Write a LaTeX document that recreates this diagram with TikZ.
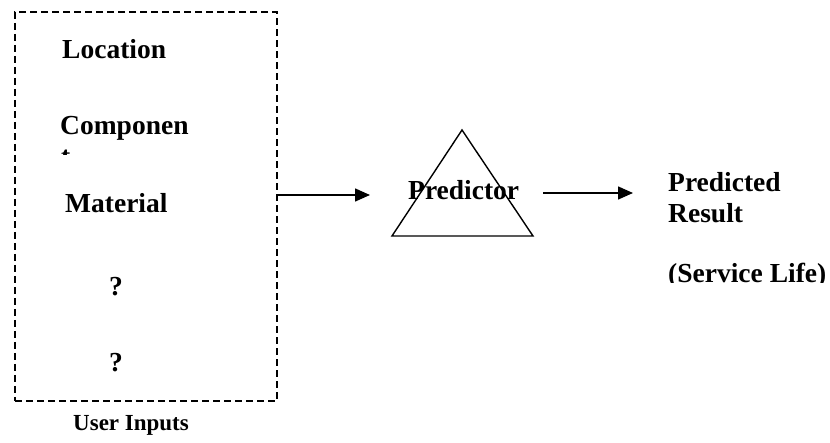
\documentclass[tikz,border=0pt]{standalone}
\usepackage{fontspec}
\setmainfont{Liberation Serif}
\usetikzlibrary{arrows.meta}
\tikzset{
  lbl/.style={anchor=base west, inner sep=0pt, font=\fontsize{27.5}{31}\selectfont\bfseries},
  smalllbl/.style={anchor=base west, inner sep=0pt, font=\fontsize{23}{27}\selectfont\bfseries},
  inputbox/.style={draw, line width=1.6pt, dash pattern=on 7pt off 4pt, minimum width=262pt, minimum height=389pt, inner sep=0pt},
  flow/.style={line width=1.5pt, -{Triangle[length=15pt,width=13pt]}},
  tri/.style={draw, line width=1.4pt, line join=miter}
}
\begin{document}
\begin{tikzpicture}[x=1pt,y=-1pt]
\useasboundingbox (0,0) rectangle (830,443);
% user inputs box
\node[inputbox] (box) at (146,206.5) {};
\node[lbl] (loc) at (62,59) {Location};
\node[lbl] (comp) at (60,135) {Componen};
\begin{scope}
  \clip (50,140) rectangle (120,154.5);
  \node[lbl] (compt) at (61,166) {t};
\end{scope}
\node[lbl] (mat) at (65,213) {Material};
\node[lbl] (q1) at (109,296) {?};
\node[lbl] (q2) at (109,372) {?};
\node[smalllbl] (ui) at (73,431) {User Inputs};
% predictor triangle
\coordinate (apex) at (462,130);
\coordinate (bl) at (392,236);
\coordinate (br) at (533,236);
\draw[tri] (apex) -- (bl) -- (br) -- cycle;
\node[lbl] (pred) at (408,200) {Predictor};
% result
\node[lbl] (res1) at (668,192) {Predicted};
\node[lbl] (res2) at (668,223) {Result};
\begin{scope}
  \clip (650,250) rectangle (830,283);
  \node[lbl] (res3) at (668,283) {(Service Life)};
\end{scope}
% connectors
\coordinate (a1s) at (box.east |- 0,195);
\coordinate (a1e) at (370,195);
\coordinate (a2s) at (543,193);
\coordinate (a2e) at (633,193);
\draw[flow] (a1s) -- (a1e);
\draw[flow] (a2s) -- (a2e);
\end{tikzpicture}
\end{document}
